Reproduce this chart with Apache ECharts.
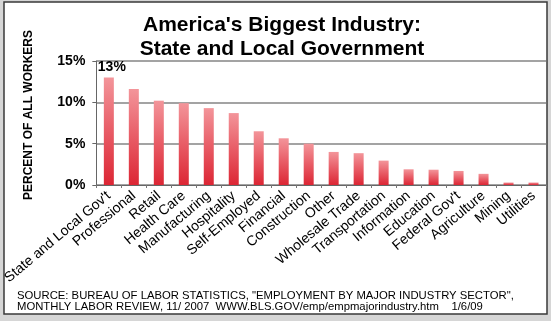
<!DOCTYPE html>
<html>
<head>
<meta charset="utf-8">
<script src="https://cdn.jsdelivr.net/npm/echarts@6/dist/echarts.min.js"></script>
<style>
  html, body { margin: 0; padding: 0; background: #d6d6d6; }
  #chart { width: 551px; height: 321px; }
</style>
</head>
<body>
<div id="chart"></div>
<script>
// Share of all workers by industry sector (percent)
const industries = [
  "State and Local Gov't", 'Professional', 'Retail', 'Health Care', 'Manufacturing',
  'Hospitality', 'Self-Employed', 'Financial', 'Construction', 'Other',
  'Wholesale Trade', 'Transportation', 'Information', 'Education', "Federal Gov't",
  'Agriculture', 'Mining', 'Utilities'
];
const sharePct = [13, 11.6, 10.2, 9.9, 9.3, 8.7, 6.5, 5.65, 5.0, 4.0, 3.85, 2.95, 1.9, 1.85, 1.7, 1.35, 0.3, 0.3];
const yTicks = [0, 5, 10, 15];
const titleLines = ["America's Biggest Industry:", 'State and Local Government'];
const yTitle = 'PERCENT OF ALL WORKERS';
const sourceLines = [
  'SOURCE: BUREAU OF LABOR STATISTICS, "EMPLOYMENT BY MAJOR INDUSTRY SECTOR",',
  'MONTHLY LABOR REVIEW, 11/ 2007  WWW.BLS.GOV/emp/empmajorindustry.htm    1/6/09'
];

const FONT = 'Arial, "Liberation Sans", sans-serif';
const chart = echarts.init(document.getElementById('chart'), null, { renderer: 'canvas' });

const barFill = new echarts.graphic.LinearGradient(0, 0, 0, 1, [
  { offset: 0, color: '#f3959a' },
  { offset: 0.5, color: '#e85c66' },
  { offset: 1, color: '#dc2634' }
]);

const barData = sharePct.map((v, i) => i === 0
  ? { value: v, label: { show: true } }
  : v);

chart.setOption({
  animation: false,
  backgroundColor: '#d6d6d6',
  title: {
    text: titleLines.join('\n'),
    left: 277,
    top: 8,
    textAlign: 'center',
    textStyle: { fontFamily: FONT, fontSize: 21, fontWeight: 'bold', color: '#000', lineHeight: 24 }
  },
  graphic: [
    {
      type: 'rect', z: -10, silent: true,
      shape: { x: 4, y: 2, width: 543, height: 312 },
      style: { fill: '#ffffff', stroke: '#3a3a3a', lineWidth: 1.5 }
    },
    {
      type: 'text', silent: true,
      x: 29, y: 115, rotation: Math.PI / 2,
      style: {
        text: yTitle, fontFamily: FONT, fontSize: 12, fontWeight: 'bold',
        fill: '#000', align: 'center', verticalAlign: 'middle'
      }
    },
    {
      type: 'text', silent: true,
      x: 17, y: 290,
      style: {
        text: sourceLines.join('\n'), fontFamily: FONT, fontSize: 11.3,
        lineHeight: 11, fill: '#000', align: 'left', verticalAlign: 'top'
      }
    }
  ],
  grid: { left: 90.5, right: 5, top: 61, bottom: 136, containLabel: false },
  xAxis: {
    type: 'category',
    data: industries,
    boundaryGap: true,
    axisLine: { show: true, lineStyle: { color: '#666', width: 1 } },
    axisTick: { show: true, alignWithLabel: false, length: 3, lineStyle: { color: '#777' } },
    axisLabel: {
      interval: 0, rotate: 40, margin: 9,
      fontFamily: FONT, fontSize: 14, color: '#000'
    }
  },
  yAxis: {
    type: 'value',
    min: yTicks[0], max: yTicks[yTicks.length - 1], interval: 5,
    axisLine: { show: true, lineStyle: { color: '#666', width: 1 } },
    axisTick: { show: true, length: 4, lineStyle: { color: '#666' } },
    splitLine: { show: true, lineStyle: { color: '#858585', width: 1.5 } },
    axisLabel: {
      formatter: v => v + '%', margin: 11,
      fontFamily: FONT, fontSize: 14, fontWeight: 'bold', color: '#000'
    }
  },
  series: [{
    type: 'bar',
    data: barData,
    barWidth: 10,
    itemStyle: { color: barFill },
    label: {
      show: false, position: 'top', distance: 3, offset: [3, 0],
      formatter: p => Math.round(p.value) + '%',
      fontFamily: FONT, fontSize: 14, fontWeight: 'bold', color: '#000'
    }
  }]
});
</script>
</body>
</html>
